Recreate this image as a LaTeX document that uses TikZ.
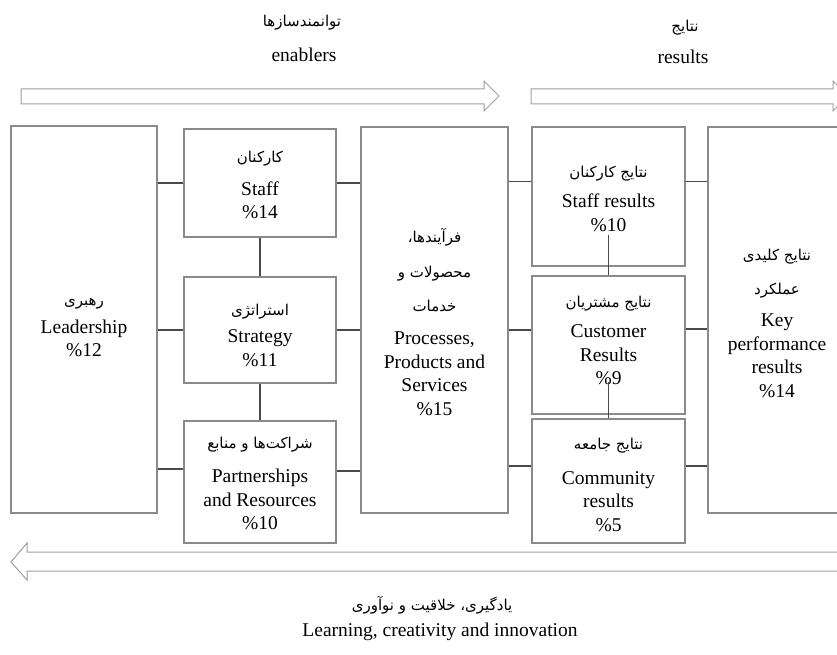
\documentclass[tikz,border=0pt]{standalone}
\usepackage{fontspec}
\setmainfont{Liberation Serif}
\newfontfamily\persianfont[Script=Arabic]{DejaVu Sans}
\TeXXeTstate=1
\newcommand{\fatxt}[1]{{\persianfont\fontsize{15}{17}\selectfont\beginR #1\endR}}
\definecolor{boxgray}{HTML}{8A8A8A}
\definecolor{linegray}{HTML}{4A4A4A}
\definecolor{arrowgray}{HTML}{A0A0A0}

\begin{document}
\begin{tikzpicture}[x=1pt, y=-1pt,
  box/.style={
      draw=boxgray,
      line width=1.1pt,
      fill=white,
      inner sep=0pt,
      align=center,
      font=\fontsize{19.5}{23.5}\selectfont
  },
  link/.style={draw=linegray, line width=1.3pt},
  flow/.style={draw=arrowgray, line width=1pt, fill=white, line join=miter},
  title/.style={font=\fontsize{19.5}{23.5}\selectfont}
]
\useasboundingbox (0,0) rectangle (837,655);
\clip (0,0) rectangle (837,655);

% block arrows
\draw[flow] (21,89) -- (484,89) -- (484,81) -- (499,96) -- (484,111) -- (484,104) -- (21,104) -- cycle;
\draw[flow] (531,89) -- (833,89) -- (833,81) -- (848,96) -- (833,111) -- (833,104) -- (531,104) -- cycle;
\draw[flow] (850,552) -- (27,552) -- (27,543) -- (11,562) -- (27,580) -- (27,571) -- (850,571) -- cycle;

\node[title] (enablersfa) at (302,23)  {\fatxt{توانمندسازها}};
\node[title] (enablers)   at (304,55)  {enablers};
\node[title] (resultsfa)  at (685,28)  {\fatxt{نتایج}};
\node[title] (results)    at (683,57)  {results};
\node[title] (learnfa)    at (432,605) {\fatxt{یادگیری، خلاقیت و نوآوری}};
\node[title] (learn)      at (440,632) {Learning, creativity and innovation};

\node[box, minimum width=146pt, minimum height=387pt] (leader)   at (84,319.5)
  {\mbox{}\\[0pt]\fatxt{رهبری}\\[4pt] Leadership\\ \%12};
\node[box, minimum width=152pt, minimum height=108pt] (staff)    at (260,183)
  {\mbox{}\\[-8pt]\fatxt{کارکنان}\\[9pt] Staff\\ \%14};
\node[box, minimum width=152pt, minimum height=106pt] (strategy) at (260,330)
  {\mbox{}\\[-2pt]\fatxt{استراتژی}\\[4pt] Strategy\\ \%11};
\node[box, minimum width=152pt, minimum height=122pt] (partner)  at (260,482)
  {\mbox{}\\[-9pt]\fatxt{شراکت‌ها و منابع}\\[11pt] Partnerships\\ and Resources\\ \%10};
\node[box, minimum width=147pt, minimum height=386pt] (process)  at (434.5,320)
  {\mbox{}\\[-6pt]\fatxt{فرآیندها،}\\[12pt] \fatxt{محصولات و}\\[10pt] \fatxt{خدمات}\\[10pt] Processes,\\ Products and\\ Services\\ \%15};
\node[box, minimum width=153pt, minimum height=139pt] (staffres) at (608.5,196.5)
  {\mbox{}\\[-8pt]\fatxt{نتایج کارکنان}\\[7pt] Staff results\\ \%10};
\node[box, minimum width=153pt, minimum height=138pt] (custres)  at (608.5,345)
  {\fatxt{نتایج مشتریان}\\[7pt] Customer\\ Results\\ \%9\\[-14pt]\mbox{}};
\node[box, minimum width=153pt, minimum height=124pt] (commres)  at (608.5,481)
  {\mbox{}\\[-4pt]\fatxt{نتایج جامعه}\\[11pt] Community\\ results\\ \%5};
\node[box, minimum width=138pt, minimum height=386pt] (keyres)   at (777,320)
  {\mbox{}\\[-5pt]\fatxt{نتایج کلیدی}\\[10pt] \fatxt{عملکرد}\\[9pt] Key\\ performance\\ results\\ \%14};

% enablers side
\draw[link] (leader.east |- staff) -- (staff);
\draw[link] (leader.east |- strategy) -- (strategy);
\draw[link] ([yshift=13pt]partner.west) -- ([yshift=13pt]partner.west -| leader.east);
\draw[link] (staff) -- (strategy);
\draw[link] (strategy) -- (partner);
\draw[link] (staff) -- (staff -| process.west);
\draw[link] (strategy) -- (strategy -| process.west);
\draw[link] ([yshift=11pt]partner.east) -- ([yshift=11pt]partner.east -| process.west);

% results side
\draw[link] ([yshift=15pt]staffres.west) -- ([yshift=15pt]staffres.west -| process.east);
\draw[link] ([yshift=15pt]custres.west) -- ([yshift=15pt]custres.west -| process.east);
\draw[link] ([yshift=15pt]commres.west) -- ([yshift=15pt]commres.west -| process.east);
\draw[link] ([yshift=15pt]staffres.east) -- ([yshift=15pt]staffres.east -| keyres.west);
\draw[link] ([yshift=16pt]custres.east) -- ([yshift=16pt]custres.east -| keyres.west);
\draw[link] ([yshift=15pt]commres.east) -- ([yshift=15pt]commres.east -| keyres.west);
\coordinate (staffresdot) at ([yshift=-38pt]staffres.center);
\coordinate (custresdot)  at ([yshift=-37pt]custres.center);
\draw[link] (staffresdot) -- (custres.north);
\draw[link] (custresdot) -- (commres.north);

\end{tikzpicture}
\end{document}
